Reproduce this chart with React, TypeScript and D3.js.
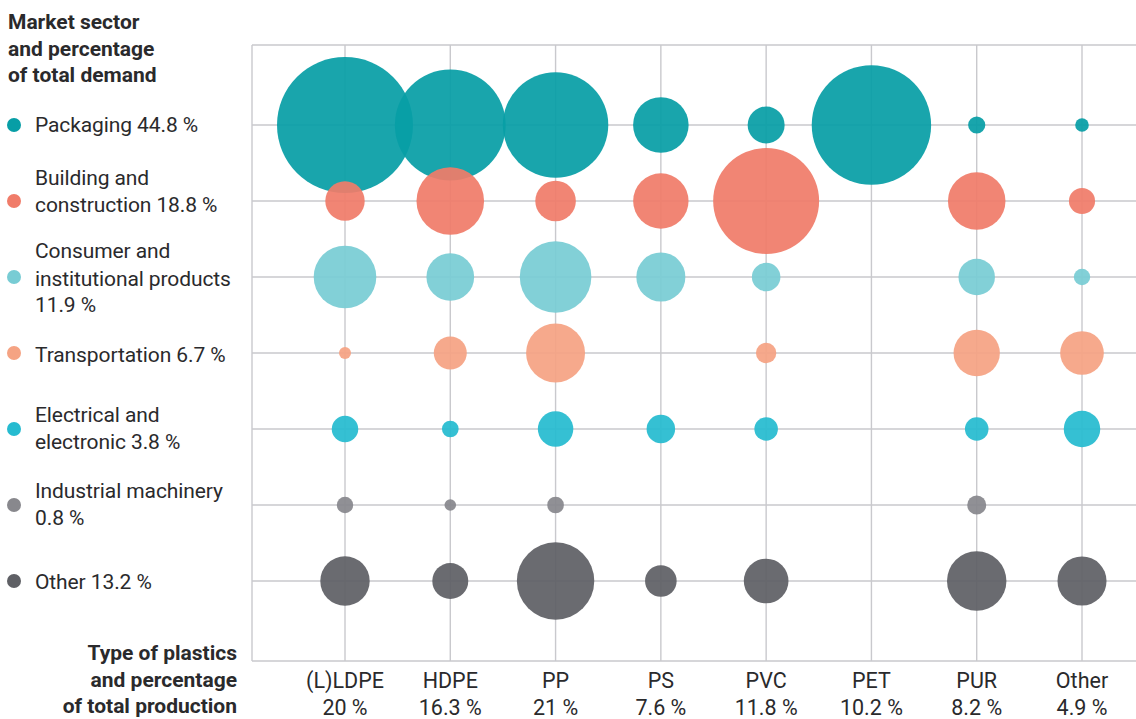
import { useEffect, useRef } from "react";
import * as d3 from "d3";

// Types de plastique (colonnes) et part de la production
const plasticTypes = ["(L)LDPE", "HDPE", "PP", "PS", "PVC", "PET", "PUR", "Other"];
const productionShares = ["20 %", "16.3 %", "21 %", "7.6 %", "11.8 %", "10.2 %", "8.2 %", "4.9 %"];

// Secteurs (lignes)
const sectors = [
  "Packaging",
  "Building and construction",
  "Consumer and institutional products",
  "Transportation",
  "Electrical and electronic",
  "Industrial machinery",
  "Other",
];
const sectorLabels = [
  ["Packaging 44.8 %"],
  ["Building and", "construction 18.8 %"],
  ["Consumer and", "institutional products", "11.9 %"],
  ["Transportation 6.7 %"],
  ["Electrical and", "electronic 3.8 %"],
  ["Industrial machinery", "0.8 %"],
  ["Other 13.2 %"],
];
const sectorColors = ["#079ea6", "#f07c69", "#78ccd4", "#f5a383", "#26bbd0", "#88888d", "#5f6065"];

const packaging = [100, 66.4, 60.1, 16.7, 7.4, 77.1, 1.6, 1.0];
const building = [8.4, 24.7, 8.9, 16.6, 60.7, 0, 17.9, 3.7];
const consumer = [21.2, 12.3, 27.7, 13.0, 4.4, 0, 7.2, 1.45];
const transportation = [0.78, 5.9, 18.8, 0, 2.25, 0, 11.6, 10.3];
const electrical = [3.8, 1.5, 6.8, 4.4, 3.0, 0, 3.0, 7.2];
const industrial = [1.45, 0.73, 1.5, 0, 0, 0, 1.95, 0];
const otherSector = [13.2, 7.0, 32.4, 5.4, 10.8, 0, 19.1, 13.0];
const seriesValues = [packaging, building, consumer, transportation, electrical, industrial, otherSector];

// Décalages des lignes de légende par rapport au point
const legendOffsets = [[7], [-16, 11], [-19, 9, 35], [9], [-7, 20], [-7, 20], [8]];

interface Cell {
  sector: number;
  type: string;
  value: number;
}

export default function App() {
  const svgRef = useRef<SVGSVGElement>(null);

  useEffect(() => {
    if (!svgRef.current) return;
    const svg = d3.select(svgRef.current);
    svg.selectAll("*").remove();

    const width = 1136;
    const height = 719;
    const left = 252;
    const top = 45;
    const bottom = 661;
    const labelFont = "Roboto, sans-serif";
    const titleFont = "Roboto, 'Liberation Sans', sans-serif";
    const textColor = "#2a2a2c";

    svg.attr("width", width).attr("height", height);

    const x = d3.scalePoint<string>().domain(plasticTypes).range([345, 1082]);
    const y = d3.scalePoint<string>().domain(sectors).range([125, 581]);
    const r = d3.scaleSqrt().domain([0, 100]).range([0, 68]);

    // Grille
    const grid = svg.append("g").attr("stroke", "#c9c9cd").attr("stroke-width", 1.4);
    grid
      .selectAll("line.h")
      .data(sectors)
      .enter()
      .append("line")
      .attr("x1", left)
      .attr("x2", width)
      .attr("y1", (d) => y(d)!)
      .attr("y2", (d) => y(d)!);
    grid
      .selectAll("line.v")
      .data(plasticTypes)
      .enter()
      .append("line")
      .attr("x1", (d) => x(d)!)
      .attr("x2", (d) => x(d)!)
      .attr("y1", top)
      .attr("y2", bottom);
    grid.append("line").attr("x1", left).attr("x2", width).attr("y1", top).attr("y2", top);
    grid.append("line").attr("x1", left).attr("x2", width).attr("y1", bottom).attr("y2", bottom);
    grid.append("line").attr("x1", left).attr("x2", left).attr("y1", top).attr("y2", bottom);

    // Bulles
    const cells: Cell[] = [];
    seriesValues.forEach((vals, si) => {
      vals.forEach((v, ti) => {
        if (v > 0) cells.push({ sector: si, type: plasticTypes[ti], value: v });
      });
    });

    svg
      .append("g")
      .selectAll("circle")
      .data(cells)
      .enter()
      .append("circle")
      .attr("cx", (d) => x(d.type)!)
      .attr("cy", (d) => y(sectors[d.sector])!)
      .attr("r", (d) => r(d.value))
      .attr("fill", (d) => sectorColors[d.sector])
      .attr("fill-opacity", 0.93);

    // Titre légende
    const title = svg
      .append("text")
      .attr("x", 8)
      .attr("font-family", titleFont)
      .attr("font-weight", 700)
      .attr("font-size", 21)
      .attr("fill", textColor);
    ["Market sector", "and percentage", "of total demand"].forEach((t, i) => {
      title.append("tspan").attr("x", 8).attr("y", 29 + i * 26.5).text(t);
    });

    // Légende
    const legend = svg.append("g");
    sectors.forEach((s, i) => {
      const cy = y(s)!;
      legend.append("circle").attr("cx", 14).attr("cy", cy).attr("r", 7).attr("fill", sectorColors[i]);
      sectorLabels[i].forEach((line, j) => {
        legend
          .append("text")
          .attr("x", 35)
          .attr("y", cy + legendOffsets[i][j])
          .attr("font-family", labelFont)
          .attr("font-size", 21)
          .attr("letter-spacing", -0.1)
          .attr("fill", textColor)
          .text(line);
      });
    });

    // Titre axe x
    const xTitle = svg
      .append("text")
      .attr("text-anchor", "end")
      .attr("font-family", titleFont)
      .attr("font-weight", 700)
      .attr("font-size", 21)
      .attr("fill", textColor);
    ["Type of plastics", "and percentage", "of total production"].forEach((t, i) => {
      xTitle.append("tspan").attr("x", 237).attr("y", 660 + i * 26.5).text(t);
    });

    // Étiquettes axe x
    const xLabels = svg
      .append("g")
      .selectAll("g")
      .data(plasticTypes)
      .enter()
      .append("g")
      .attr("transform", (d) => `translate(${x(d)},0)`)
      .attr("font-family", labelFont)
      .attr("font-size", 21.5)
      .attr("fill", textColor)
      .attr("text-anchor", "middle");
    xLabels.append("text").attr("y", 688).text((d) => d);
    xLabels
      .append("text")
      .attr("y", 715)
      .text((_d, i) => productionShares[i]);
  }, []);

  return (
    <svg
      ref={svgRef}
      style={{ position: "absolute", left: 0, top: 0, background: "#ffffff" }}
    />
  );
}
